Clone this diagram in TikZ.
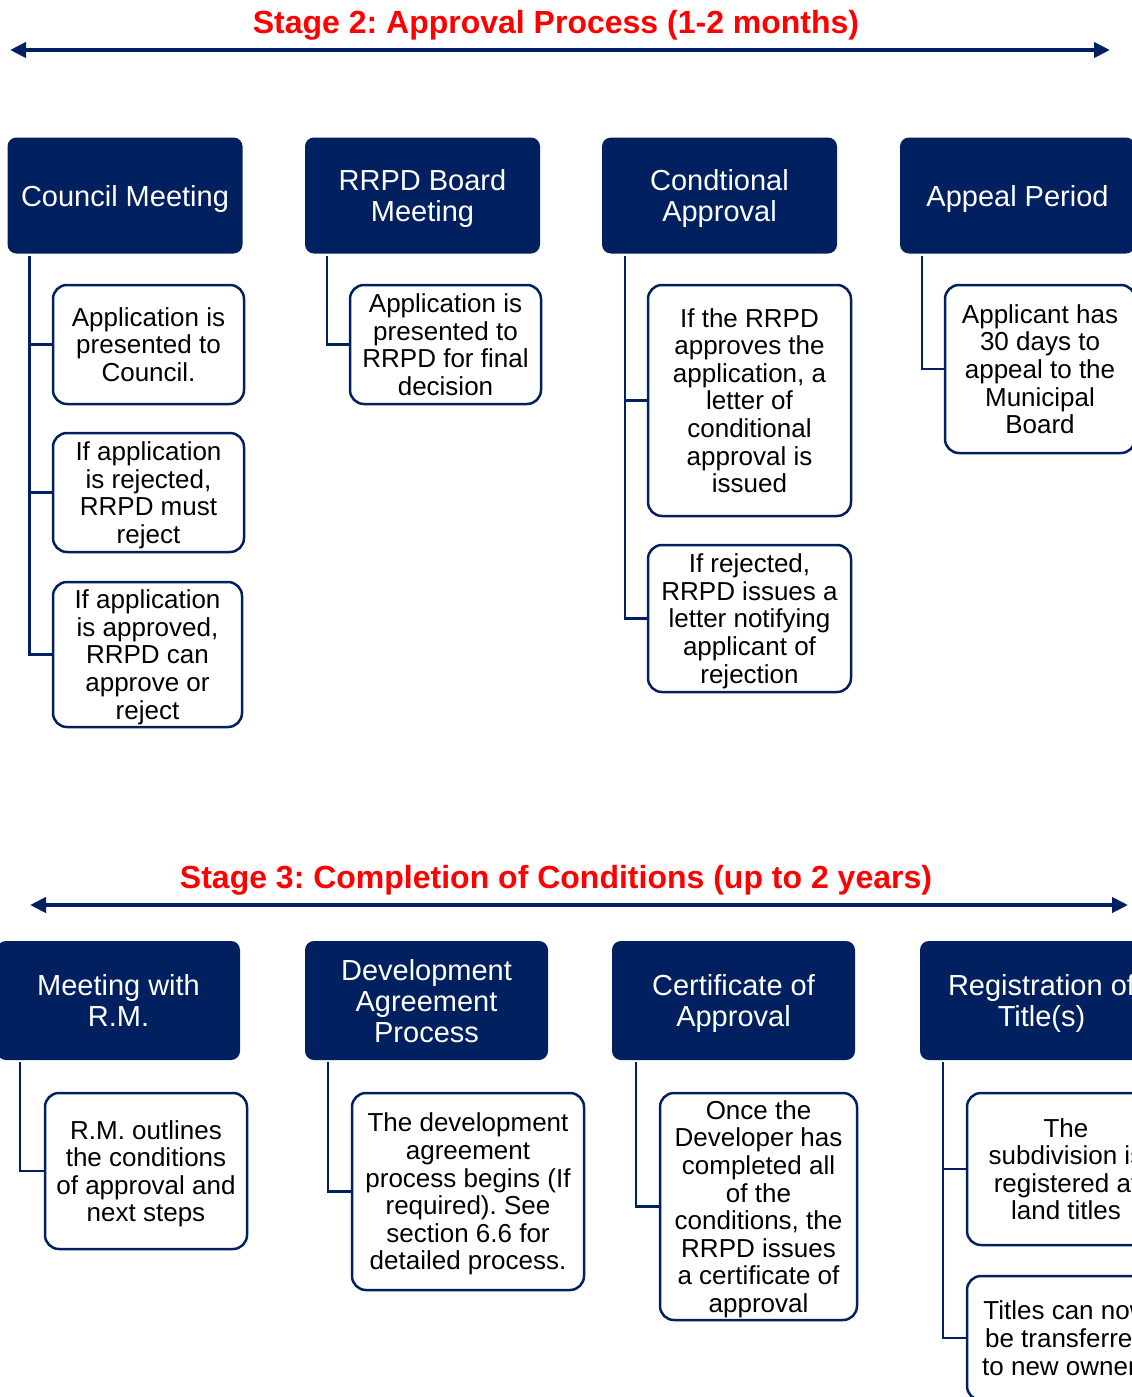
\documentclass[tikz,border=0pt]{standalone}
\usepackage{fontspec}
\setmainfont{Liberation Sans}
\usetikzlibrary{arrows.meta}
\definecolor{navy}{RGB}{0,32,96}
\frenchspacing
\begin{document}
\begin{tikzpicture}[x=1pt,y=-1pt,
	head/.style={fill=navy,rounded corners=9pt,text=white,inner sep=0pt,align=center,text depth=0pt,minimum width=235pt,minimum height=116pt,font=\fontsize{29}{31}\selectfont},
	leaf/.style={draw=navy,line width=2.5pt,fill=white,rounded corners=14pt,inner sep=0pt,align=center,text depth=0pt,font=\fontsize{26}{27.6}\selectfont},
	link/.style={draw=navy,line width=2.5pt},
	span/.style={draw=navy,line width=4pt,{Triangle[length=16pt,width=15pt]}-{Triangle[length=16pt,width=15pt]}},
	stage/.style={text=red,text depth=0pt,font=\fontsize{32}{34}\bfseries\selectfont}]
	\useasboundingbox (0,0) rectangle (1132,1397);
	\clip (0,0) rectangle (1132,1397);
	
	% stage 2
	\node[stage] (t2) at (556,22) {Stage 2: Approval Process (1-2 months)};
	\coordinate (s2l) at (10,50); \coordinate (s2r) at (1110,50);
	\draw[span] (s2l)--(s2r);
	\node[head] (cm) at (125,195.5) {Council Meeting};
	\node[head] (rb) at (422.5,195.5) {RRPD Board\\Meeting};
	\node[head] (ca) at (719.5,195.5) {Condtional\\Approval};
	\node[head] (ap) at (1017.5,195.5) {Appeal Period};
	\node[leaf,minimum width=191pt,minimum height=119pt] (cm1) at (148.5,344.5) {Application is\\presented to\\Council.};
	\node[leaf,minimum width=191pt,minimum height=119pt] (cm2) at (148.5,492.5) {If application\\is rejected,\\RRPD must\\reject};
	\node[leaf,minimum width=189pt,minimum height=145pt] (cm3) at (147.5,654.5) {If application\\is approved,\\RRPD can\\approve or\\reject};
	\node[leaf,minimum width=191pt,minimum height=119pt] (rb1) at (445.5,344.5) {Application is\\presented to\\RRPD for final\\decision};
	\node[leaf,minimum width=203pt,minimum height=231pt] (ca1) at (749.5,400.5) {If the RRPD\\approves the\\application, a\\letter of\\conditional\\approval is\\issued};
	\node[leaf,minimum width=203pt,minimum height=147pt] (ca2) at (749.5,618.5) {If rejected,\\RRPD issues a\\letter notifying\\applicant of\\rejection};
	\node[leaf,minimum width=190pt,minimum height=168pt] (ap1) at (1040,369) {Applicant has\\30 days to\\appeal to the\\Municipal\\Board};
	
	% stage 3
	\node[stage] (t3) at (556,877) {Stage 3: Completion of Conditions (up to 2 years)};
	\coordinate (s3l) at (30,905); \coordinate (s3r) at (1128,905);
	\draw[span] (s3l)--(s3r);
	\node[head,minimum width=243pt,minimum height=119pt] (mr) at (118.5,1000.5) {Meeting with\\R.M.};
	\node[head,minimum width=243pt,minimum height=119pt] (da) at (426.5,1000.5) {Development\\Agreement\\Process};
	\node[head,minimum width=243pt,minimum height=119pt] (ce) at (733.5,1000.5) {Certificate of\\Approval};
	\node[head,minimum width=243pt,minimum height=119pt] (rt) at (1041.5,1000.5) {Registration of\\Title(s)};
	\node[leaf,minimum width=202pt,minimum height=156pt] (mr1) at (146,1171) {R.M. outlines\\the conditions\\of approval and\\next steps};
	\node[leaf,minimum width=232pt,minimum height=197pt] (da1) at (468,1191.5) {The development\\agreement\\process begins (If\\required). See\\section 6.6 for\\detailed process.};
	\node[leaf,minimum width=197pt,minimum height=227pt] (ce1) at (758.5,1206.5) {Once the\\Developer has\\completed all\\of the\\conditions, the\\RRPD issues\\a certificate of\\approval};
	\node[leaf,minimum width=198pt,minimum height=152pt] (rt1) at (1066,1169) {The\\subdivision is\\registered at\\land titles};
	\node[leaf,minimum width=198pt,minimum height=124pt] (rt2) at (1066,1338) {Titles can now\\be transferred\\to new owners};
	
	% links
	\foreach \p/\c/\d in {cm/cm1/22,cm/cm2/22,cm/cm3/22,rb/rb1/22,ca/ca1/23,ca/ca2/23,ap/ap1/22,mr/mr1/23,da/da1/23,ce/ce1/24,rt/rt1/23,rt/rt2/23}
	\draw[link] ([xshift=\d pt,yshift=-2pt]\p.south west) |- (\c);
\end{tikzpicture}
\end{document}
